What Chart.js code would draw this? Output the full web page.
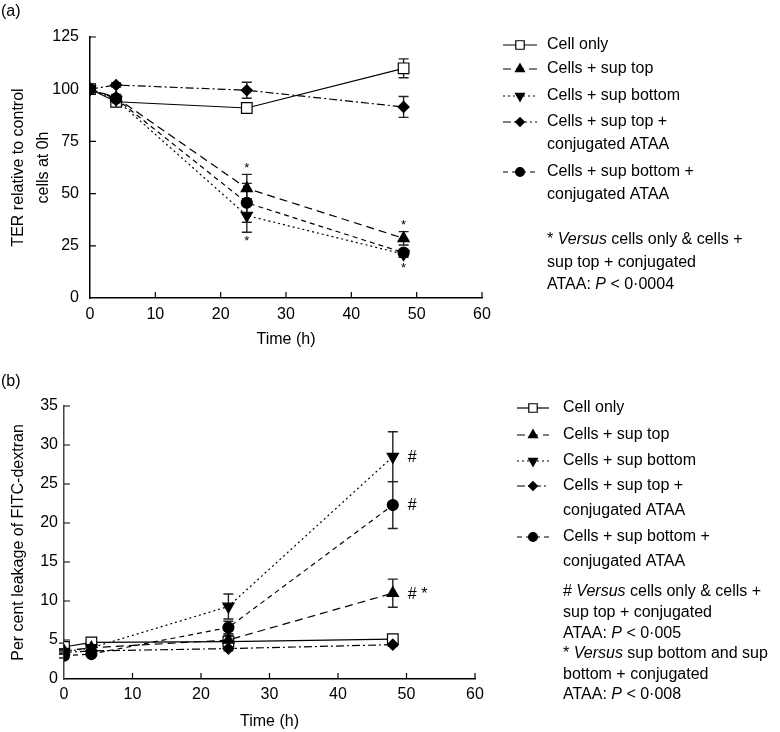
<!DOCTYPE html>
<html>
<head>
<meta charset="utf-8">
<script src="https://cdn.jsdelivr.net/npm/chart.js@4.4.1/dist/chart.umd.min.js"></script>
<style>
  body { margin: 0; background: #fff; }
  .panel { position: absolute; left: 0; width: 780px; }
  #pa { top: 0; height: 372px; }
  #pb { top: 372px; height: 360px; }
</style>
</head>
<body>
<div id="pa" class="panel"><canvas id="chartA"></canvas></div>
<div id="pb" class="panel"><canvas id="chartB"></canvas></div>
<script>
// time points (h)
var hours = [0, 4, 24, 48];

var legendLabels = [
  ['Cell only'],
  ['Cells + sup top'],
  ['Cells + sup bottom'],
  ['Cells + sup top +', 'conjugated ATAA'],
  ['Cells + sup bottom +', 'conjugated ATAA']
];

// (a) TER relative to control cells at 0h
var cellOnlyA      = [100, 94, 91, 110];
var supTopA        = [100, 96, 52.5, 28.6];
var supBottomA     = [100, 95, 39.5, 21];
var supTopAtaaA    = [100, 102, 99.5, 91.5];
var supBottomAtaaA = [100, 95.5, 45.6, 21.7];

var cellOnlyErrA      = [0, 1.5, 1.5, 4.5];
var supTopErrA        = [0, 1.5, 6.7, 3.2];
var supBottomErrA     = [0, 1.5, 8, 1.5];
var supTopAtaaErrA    = [0, 1, 3.8, 5];
var supBottomAtaaErrA = [0, 1.5, 9.3, 1.5];

// (b) per cent leakage of FITC-dextran
var cellOnlyB      = [4.1, 4.7, 4.8, 5.1];
var supTopB        = [3.6, 4.0, 5.0, 11.0];
var supBottomB     = [3.5, 4.0, 9.3, 28.5];
var supTopAtaaB    = [3.4, 3.6, 3.9, 4.4];
var supBottomAtaaB = [3.0, 3.2, 6.6, 22.3];

var cellOnlyErrB      = [0.5, 0.3, 0.6, 0.3];
var supTopErrB        = [0.3, 0.3, 0.6, 1.8];
var supBottomErrB     = [0.3, 0.3, 1.6, 3.2];
var supTopAtaaErrB    = [0.2, 0.2, 0.3, 0.2];
var supBottomAtaaErrB = [0.3, 0.3, 0.8, 3.0];

// significance marks: series index, point index, text, where
var marksA = [
  [1, 2, '*', 'above'], [2, 2, '*', 'below'],
  [1, 3, '*', 'above'], [4, 3, '*', 'below']
];
var marksB = [
  [2, 3, '#', 'right'], [4, 3, '#', 'right'], [1, 3, '# *', 'right']
];

// footnotes: [text, italic]
var notesA = [
  [['* ', 0], ['Versus', 1], [' cells only & cells +', 0]],
  [['sup top + conjugated', 0]],
  [['ATAA: ', 0], ['P', 1], [' < 0\u00b70004', 0]]
];
var notesB = [
  [['# ', 0], ['Versus', 1], [' cells only & cells +', 0]],
  [['sup top + conjugated', 0]],
  [['ATAA: ', 0], ['P', 1], [' < 0\u00b7005', 0]],
  [['* ', 0], ['Versus', 1], [' sup bottom and sup', 0]],
  [['bottom + conjugated', 0]],
  [['ATAA: ', 0], ['P', 1], [' < 0\u00b7008', 0]]
];

var FONT = "'Liberation Sans', Arial, Helvetica, sans-serif";
Chart.defaults.font.family = FONT;
Chart.defaults.color = '#000';

function pts(vals) {
  return hours.map(function (h, i) { return { x: h, y: vals[i] }; });
}

function makeDatasets(v) {
  return [
    { data: pts(v[0]), borderDash: [], pointStyle: 'rect', pointRadius: 7.5, pointBackgroundColor: '#fff', order: 5 },
    { data: pts(v[1]), borderDash: [8, 5], pointStyle: 'triangle', pointRadius: 6.5, pointBackgroundColor: '#000', order: 1 },
    { data: pts(v[2]), borderDash: [2, 3], pointStyle: 'triangle', pointRotation: 180, pointRadius: 6.5, pointBackgroundColor: '#000', order: 2 },
    { data: pts(v[3]), borderDash: [8, 3, 2, 3], pointStyle: 'rectRot', pointRadius: 5.5, pointBackgroundColor: '#000', order: 3 },
    { data: pts(v[4]), borderDash: [5, 4], pointStyle: 'circle', pointRadius: 5.5, pointBackgroundColor: '#000', order: 4 }
  ].map(function (d) {
    d.borderColor = '#000';
    d.borderWidth = 1.2;
    d.pointBorderColor = '#000';
    d.pointBorderWidth = 1.2;
    d.fill = false;
    d.tension = 0;
    return d;
  });
}

function drawRich(ctx, parts, x, y, size) {
  parts.forEach(function (p) {
    ctx.font = (p[1] ? 'italic ' : '') + size + 'px ' + FONT;
    ctx.fillText(p[0], x, y);
    x += ctx.measureText(p[0]).width;
  });
}

var figurePlugin = {
  id: 'figure',
  beforeDatasetsDraw: function (chart, args, o) {
    var ctx = chart.ctx, ys = chart.scales.y;
    ctx.save();
    ctx.strokeStyle = '#222';
    ctx.lineWidth = 1.4;
    o.errors.forEach(function (errs, di) {
      var meta = chart.getDatasetMeta(di);
      var data = chart.data.datasets[di].data;
      errs.forEach(function (e, i) {
        if (!e) return;
        var px = meta.data[i].x;
        var y1 = ys.getPixelForValue(data[i].y + e);
        var y2 = ys.getPixelForValue(data[i].y - e);
        ctx.beginPath();
        ctx.moveTo(px, y1); ctx.lineTo(px, y2);
        ctx.moveTo(px - 5, y1); ctx.lineTo(px + 5, y1);
        ctx.moveTo(px - 5, y2); ctx.lineTo(px + 5, y2);
        ctx.stroke();
      });
    });
    ctx.restore();
  },
  afterDatasetsDraw: function (chart, args, o) {
    var ctx = chart.ctx, ys = chart.scales.y;
    ctx.save();
    ctx.fillStyle = '#000';
    o.marks.forEach(function (m) {
      var el = chart.getDatasetMeta(m[0]).data[m[1]];
      var v = chart.data.datasets[m[0]].data[m[1]].y;
      var e = o.errors[m[0]][m[1]];
      ctx.font = o.markSize + 'px ' + FONT;
      ctx.textBaseline = 'middle';
      if (m[3] === 'right') {
        ctx.textAlign = 'left';
        ctx.fillText(m[2], el.x + 15, el.y + 1);
      } else {
        ctx.textAlign = 'center';
        var y = m[3] === 'above'
          ? Math.min(ys.getPixelForValue(v + e), el.y - 7) - 6
          : Math.max(ys.getPixelForValue(v - e), el.y + 7) + 9;
        ctx.fillText(m[2], el.x, y);
      }
    });
    ctx.restore();
  },
  afterDraw: function (chart, args, o) {
    var ctx = chart.ctx, xs = chart.scales.x, ys = chart.scales.y, area = chart.chartArea;
    ctx.save();
    // inward tick marks
    ctx.strokeStyle = '#000';
    ctx.lineWidth = 1.2;
    ctx.beginPath();
    xs.ticks.forEach(function (t) {
      if (t.value === xs.min) return;
      var px = xs.getPixelForValue(t.value);
      ctx.moveTo(px, area.bottom); ctx.lineTo(px, area.bottom - 6);
    });
    ys.ticks.forEach(function (t) {
      if (t.value === ys.min) return;
      var py = ys.getPixelForValue(t.value);
      ctx.moveTo(area.left, py); ctx.lineTo(area.left + 6, py);
    });
    ctx.stroke();

    // panel label
    ctx.fillStyle = '#000';
    ctx.textAlign = 'left';
    ctx.textBaseline = 'middle';
    ctx.font = '16px ' + FONT;
    ctx.fillText(o.panel, 1, o.panelY);

    // legend
    var L = o.legend;
    var drawPoint = Chart.helpers && Chart.helpers.drawPoint;
    chart.data.datasets.forEach(function (ds, di) {
      var ry = L.rows[di];
      ctx.save();
      ctx.strokeStyle = '#000';
      ctx.lineWidth = ds.borderWidth;
      ctx.setLineDash(ds.borderDash);
      ctx.beginPath();
      ctx.moveTo(L.x0, ry); ctx.lineTo(L.x1, ry);
      ctx.stroke();
      ctx.setLineDash([]);
      ctx.fillStyle = ds.pointBackgroundColor;
      ctx.lineWidth = ds.pointBorderWidth;
      if (drawPoint) {
        drawPoint(ctx, {
          pointStyle: ds.pointStyle,
          radius: ds.pointRadius * 0.8,
          rotation: ds.pointRotation || 0,
          borderWidth: ds.pointBorderWidth
        }, (L.x0 + L.x1) / 2, ry);
      }
      ctx.restore();
      ctx.fillStyle = '#000';
      ctx.font = L.size + 'px ' + FONT;
      legendLabels[di].forEach(function (line, k) {
        ctx.fillText(line, L.tx, ry + k * L.gap);
      });
    });

    // footnotes
    o.notes.forEach(function (parts, k) {
      drawRich(ctx, parts, L.tx, o.noteRows[k], L.size);
    });
    ctx.restore();
  }
};

function makeOptions(c) {
  return {
    responsive: true,
    maintainAspectRatio: false,
    animation: false,
    events: [],
    layout: { padding: { left: 0, top: c.top, right: c.right, bottom: 0 } },
    plugins: {
      legend: { display: false },
      tooltip: { enabled: false },
      figure: c.figure
    },
    scales: {
      x: {
        type: 'linear', min: 0, max: 60,
        ticks: { stepSize: 10, color: '#000', padding: c.xPad, font: { size: 16 } },
        grid: { drawOnChartArea: false, drawTicks: false },
        border: { color: '#000', width: 1.5 },
        title: { display: true, text: 'Time (h)', color: '#000', font: { size: 16, lineHeight: 1.2 }, padding: { top: 0, bottom: c.xTitlePad } },
        afterFit: function (s) { s.height = c.xH; }
      },
      y: {
        type: 'linear', min: 0, max: c.yMax,
        ticks: { stepSize: c.yStep, color: '#000', padding: c.yPad, font: { size: 16 } },
        grid: { drawOnChartArea: false, drawTicks: false },
        border: { color: c.yAxisColor, width: 1.5 },
        title: { display: true, text: c.yTitle, color: '#000', font: { size: 16, lineHeight: 1.55 }, padding: { top: 6, bottom: 0 } },
        afterFit: function (s) { s.width = c.yW; }
      }
    }
  };
}

new Chart(document.getElementById('chartA'), {
  type: 'line',
  data: { datasets: makeDatasets([cellOnlyA, supTopA, supBottomA, supTopAtaaA, supBottomAtaaA]) },
  options: makeOptions({
    top: 37, right: 298, xH: 74, yW: 90, xPad: 7, yPad: 11, xTitlePad: 22.4,
    yMax: 125, yStep: 25, yAxisColor: '#000',
    yTitle: ['TER relative to control', 'cells at 0h'],
    figure: {
      panel: '(a)', panelY: 12,
      errors: [cellOnlyErrA, supTopErrA, supBottomErrA, supTopAtaaErrA, supBottomAtaaErrA],
      marks: marksA, markSize: 13,
      legend: { x0: 503, x1: 537, tx: 547, size: 16, gap: 23, rows: [45, 69, 96, 122, 172] },
      notes: notesA, noteRows: [240, 263, 285]
    }
  }),
  plugins: [figurePlugin]
});

new Chart(document.getElementById('chartB'), {
  type: 'line',
  data: { datasets: makeDatasets([cellOnlyB, supTopB, supBottomB, supTopAtaaB, supBottomAtaaB]) },
  options: makeOptions({
    top: 34, right: 305, xH: 53, yW: 64, xPad: 6, yPad: 6, xTitlePad: 0.4,
    yMax: 35, yStep: 5, yAxisColor: '#444',
    yTitle: 'Per cent leakage of FITC-dextran',
    figure: {
      panel: '(b)', panelY: 10,
      errors: [cellOnlyErrB, supTopErrB, supBottomErrB, supTopAtaaErrB, supBottomAtaaErrB],
      marks: marksB, markSize: 16,
      legend: { x0: 517, x1: 549, tx: 563, size: 16, gap: 25, rows: [36, 63, 89, 114, 165] },
      notes: notesB, noteRows: [220, 241, 262, 282, 303, 323]
    }
  }),
  plugins: [figurePlugin]
});
</script>
</body>
</html>
